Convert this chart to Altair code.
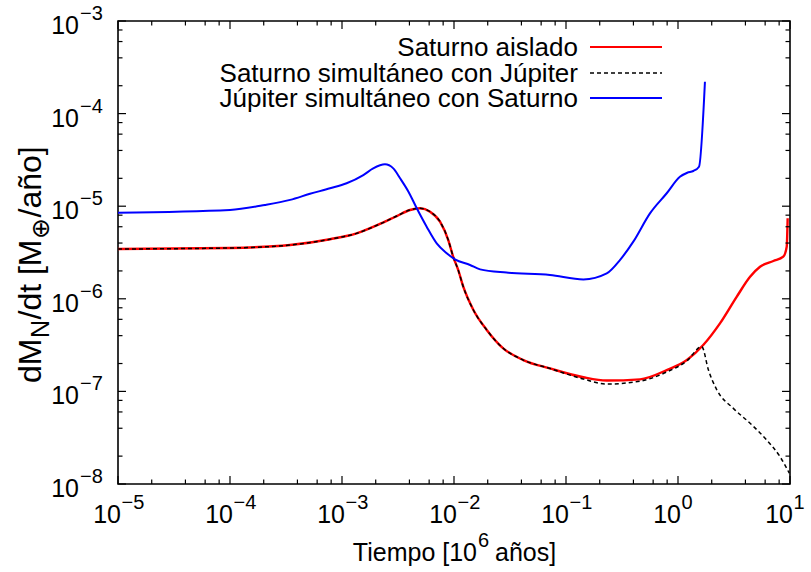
import altair as alt
import pandas as pd

W, H = 672, 463
FONT = "Liberation Sans"

# ---------------- data ----------------
# Saturno aislado
sat_t = [1e-5, 1e-4, 3.44e-4, 7.81e-4, 1.35e-3, 2.18e-3, 3.08e-3, 4.05e-3, 4.97e-3,
         6.11e-3, 7.50e-3, 8.89e-3, 9.86e-3, 1.09e-2, 1.21e-2, 1.49e-2, 1.96e-2,
         2.75e-2, 4.16e-2, 7.19e-2, 0.143, 0.231, 0.458, 0.793, 1.20, 1.68, 2.37,
         3.34, 4.40, 5.40, 7.10, 8.71, 9.35, 9.53]
sat_v = [3.45e-6, 3.54e-6, 3.81e-6, 4.40e-6, 5.09e-6, 6.43e-6, 7.83e-6, 9.10e-6, 9.49e-6,
         8.73e-6, 6.81e-6, 4.31e-6, 2.82e-6, 2.05e-6, 1.35e-6, 7.57e-7, 4.61e-7,
         2.92e-7, 2.18e-7, 1.77e-7, 1.42e-7, 1.31e-7, 1.35e-7, 1.70e-7, 2.18e-7, 3.17e-7,
         5.43e-7, 1.05e-6, 1.73e-6, 2.22e-6, 2.56e-6, 2.85e-6, 3.66e-6, 7.40e-6]

# Saturno simultáneo con Júpiter
sj_t = [1e-5, 1e-4, 3.44e-4, 7.81e-4, 1.35e-3, 2.18e-3, 3.08e-3, 4.05e-3, 4.97e-3,
        6.11e-3, 7.50e-3, 8.89e-3, 9.86e-3, 1.09e-2, 1.21e-2, 1.49e-2, 1.96e-2,
        2.75e-2, 4.16e-2, 7.19e-2, 0.143, 0.231, 0.458, 0.793, 1.20, 1.63, 1.87,
        2.22, 3.12, 4.40, 6.19, 8.15, 9.86]
sj_v = [3.45e-6, 3.54e-6, 3.81e-6, 4.40e-6, 5.09e-6, 6.43e-6, 7.83e-6, 9.10e-6, 9.49e-6,
        8.73e-6, 6.81e-6, 4.31e-6, 2.82e-6, 2.05e-6, 1.35e-6, 7.57e-7, 4.61e-7,
        2.92e-7, 2.18e-7, 1.77e-7, 1.36e-7, 1.20e-7, 1.29e-7, 1.62e-7, 2.14e-7, 3.04e-7,
        1.70e-7, 1.04e-7, 6.56e-8, 4.53e-8, 2.99e-8, 1.97e-8, 1.31e-8]

# Júpiter simultáneo con Saturno
jup_t = [1e-5, 1e-4, 2.05e-4, 3.44e-4, 5.18e-4, 7.81e-4, 1.10e-3, 1.55e-3, 1.90e-3,
         2.42e-3, 2.87e-3, 3.30e-3, 3.91e-3, 4.65e-3, 5.70e-3, 7.01e-3, 8.61e-3,
         1.02e-2, 1.39e-2, 1.71e-2, 2.95e-2, 7.19e-2, 0.143, 0.231, 0.303, 0.399,
         0.562, 0.793, 1.04, 1.21, 1.37, 1.54, 1.74]
jup_v = [8.51e-6, 9.1e-6, 1.03e-5, 1.17e-5, 1.36e-5, 1.56e-5, 1.77e-5, 2.17e-5, 2.56e-5,
         2.83e-5, 2.56e-5, 2.00e-5, 1.44e-5, 9.5e-6, 6.01e-6, 3.97e-6, 3.10e-6,
         2.67e-6, 2.32e-6, 2.08e-6, 1.92e-6, 1.81e-6, 1.62e-6, 1.88e-6, 2.62e-6, 4.14e-6,
         8.37e-6, 1.38e-5, 2.08e-5, 2.30e-5, 2.40e-5, 2.67e-5, 2.21e-4]

series_names = ["Saturno aislado", "Saturno simultáneo con Júpiter",
                "Júpiter simultáneo con Saturno"]

# axis ticks and labels
x_major = [1e-5, 1e-4, 1e-3, 1e-2, 1e-1, 1e0, 1e1]
x_exp = ["−5", "−4", "−3", "−2", "−1", "0", "1"]
x_minor = [2e-5, 4e-5, 6e-5, 8e-5, 2e-4, 4e-4, 6e-4, 8e-4, 2e-3, 4e-3, 6e-3, 8e-3,
           2e-2, 4e-2, 6e-2, 8e-2, 0.2, 0.4, 0.6, 0.8, 2, 4, 6, 8]
y_major = [1e-8, 1e-7, 1e-6, 1e-5, 1e-4, 1e-3]
y_exp = ["−8", "−7", "−6", "−5", "−4", "−3"]
y_minor = [2e-8, 4e-8, 6e-8, 8e-8, 2e-7, 4e-7, 6e-7, 8e-7, 2e-6, 4e-6, 6e-6, 8e-6,
           2e-5, 4e-5, 6e-5, 8e-5, 2e-4, 4e-4, 6e-4, 8e-4]

# ---------------- tables ----------------
sat_df = pd.DataFrame({"t": sat_t, "v": sat_v, "i": range(len(sat_t))})
sj_df = pd.DataFrame({"t": sj_t, "v": sj_v, "i": range(len(sj_t))})
jup_df = pd.DataFrame({"t": jup_t, "v": jup_v, "i": range(len(jup_t))})
xmaj_df = pd.DataFrame({"v": x_major, "base": ["10"] * len(x_major), "exp": x_exp})
ymaj_df = pd.DataFrame({"v": y_major, "base": ["10"] * len(y_major), "exp": y_exp})
xmin_df = pd.DataFrame({"v": x_minor})
ymin_df = pd.DataFrame({"v": y_minor})
one_df = pd.DataFrame({"k": [0]})

xs = alt.Scale(type="log", domain=[1e-5, 10], nice=False)
ys = alt.Scale(type="log", domain=[1e-8, 1e-3], nice=False)


def curve(df, color, width, dash=None):
    kw = dict(color=color, strokeWidth=width, clip=True, interpolate="monotone")
    if dash:
        kw["strokeDash"] = dash
    return alt.Chart(df).mark_line(**kw).encode(
        x=alt.X("t:Q", scale=xs, axis=None),
        y=alt.Y("v:Q", scale=ys, axis=None),
        order="i:Q",
    )


red = curve(sat_df, "#ff0000", 2.4)
black = curve(sj_df, "#000000", 1.5, [4, 3])
blue = curve(jup_df, "#0000ff", 2)

MAJ, MIN = 8, 4.5


def xticks(df, length):
    base = alt.Chart(df).mark_rule(color="black", strokeWidth=1.2)
    enc_x = alt.X("v:Q", scale=xs, axis=None)
    return [base.encode(x=enc_x, y=alt.value(H), y2=alt.value(H - length)),
            base.encode(x=enc_x, y=alt.value(0), y2=alt.value(length))]


def yticks(df, length):
    base = alt.Chart(df).mark_rule(color="black", strokeWidth=1.2)
    enc_y = alt.Y("v:Q", scale=ys, axis=None)
    return [base.encode(y=enc_y, x=alt.value(0), x2=alt.value(length)),
            base.encode(y=enc_y, x=alt.value(W), x2=alt.value(W - length))]


ticks = xticks(xmaj_df, MAJ) + xticks(xmin_df, MIN) + yticks(ymaj_df, MAJ) + yticks(ymin_df, MIN)

# tick labels (10 with superscript exponent)
xl_base = alt.Chart(xmaj_df).mark_text(font=FONT, fontSize=25, align="right",
                                        baseline="alphabetic", dx=3).encode(
    x=alt.X("v:Q", scale=xs, axis=None), y=alt.value(H + 39), text="base:N")
xl_exp = alt.Chart(xmaj_df).mark_text(font=FONT, fontSize=20, align="left",
                                       baseline="alphabetic", dx=3.5).encode(
    x=alt.X("v:Q", scale=xs, axis=None), y=alt.value(H + 24.5), text="exp:N")
yl_base = alt.Chart(ymaj_df).mark_text(font=FONT, fontSize=25, align="right",
                                        baseline="alphabetic", dy=13).encode(
    y=alt.Y("v:Q", scale=ys, axis=None), x=alt.value(-39), text="base:N")
yl_exp = alt.Chart(ymaj_df).mark_text(font=FONT, fontSize=20, align="left",
                                       baseline="alphabetic", dy=-1).encode(
    y=alt.Y("v:Q", scale=ys, axis=None), x=alt.value(-38), text="exp:N")


# free text pieces (titles)
def txt(s, x, y, size=25, align="left", angle=0, font=FONT, baseline="alphabetic"):
    kw = dict(text=s, font=font, fontSize=size, align=align, baseline=baseline,
              color="black")
    if angle:
        kw["angle"] = angle
    return alt.Chart(one_df).mark_text(**kw).encode(x=alt.value(x), y=alt.value(y))


xt_y = H + 77
xtitle = [txt("Tiempo [10", 359, xt_y, align="right"),
          txt("6", 360, xt_y - 14.5, size=20),
          txt("años]", 377, xt_y)]

# y title, rotated, pieces stacked bottom-to-top
YS, YSS = 32, 25
yt_x = -77
y0 = 362
ytitle = [txt("dM", yt_x, y0, size=YS, angle=270),
          txt("N", yt_x + 8, y0 - 45, size=YSS, angle=270),
          txt("/dt [M", yt_x, y0 - 63.5, size=YS, angle=270),
          txt("⊕", yt_x + 8, y0 - 144, size=YSS, angle=270, font="DejaVu Sans"),
          txt("/año]", yt_x, y0 - 165.5, size=YS, angle=270)]

# legend (labels left, samples right)
leg_y = [26, 52, 77]
LX_T, LX1, LX2 = 460, 472, 544


def leg_line(y, color, width, dash=None):
    kw = dict(color=color, strokeWidth=width)
    if dash:
        kw["strokeDash"] = dash
    return alt.Chart(one_df).mark_rule(**kw).encode(
        x=alt.value(LX1), x2=alt.value(LX2), y=alt.value(y))


legend = []
for name, y in zip(series_names, leg_y):
    legend.append(txt(name, LX_T, y + 1, size=26, align="right", baseline="middle"))
legend += [leg_line(leg_y[0], "#ff0000", 2.2),
           leg_line(leg_y[1], "#000000", 1.5, [4, 3]),
           leg_line(leg_y[2], "#0000ff", 2)]

chart = alt.layer(
    red, black, blue, *ticks, xl_base, xl_exp, yl_base, yl_exp, *xtitle, *ytitle, *legend
).properties(
    width=W, height=H,
    padding={"left": 118, "top": 21, "right": 21, "bottom": 88},
    autosize=alt.AutoSizeParams(type="none"),
    background="white",
).configure_view(stroke="black", strokeWidth=1.6)

chart.save("out.html", embed_options={"renderer": "svg", "actions": False})
